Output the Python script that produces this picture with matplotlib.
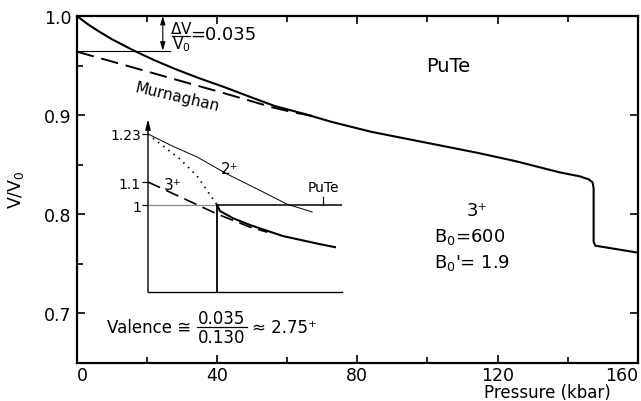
import matplotlib
matplotlib.use('Agg')

import matplotlib.pyplot as plt
from matplotlib.ticker import MultipleLocator, FormatStrFormatter

plt.rcParams['font.family'] = 'DejaVu Sans'
plt.rcParams['mathtext.default'] = 'regular'

# PuTe: V/V0 medida contra presion (kbar)
p_exp = [0, 3, 6, 10, 16.5, 22, 28, 35, 42.2, 50, 56.5, 65, 72.7, 84, 100, 114, 125,
         137.8, 143.5, 146, 147.1, 147.4, 147.4, 147.9, 160]
v_exp = [1.0, 0.992, 0.985, 0.9765, 0.9646, 0.9555, 0.9465, 0.937, 0.928, 0.9175,
         0.909, 0.901, 0.893, 0.883, 0.8718, 0.862, 0.8535, 0.842, 0.838, 0.835,
         0.832, 0.826, 0.772, 0.768, 0.761]

# Ajuste de Murnaghan (linea discontinua)
p_murn = [0, 20, 28, 42, 56, 62, 67]
v_murn = [0.964, 0.944, 0.936, 0.922, 0.9075, 0.9025, 0.8992]

# Salto de volumen extrapolado
dv = 0.035
p_dv_line = [0, 26.5]
p_dv_arrow = 24.5

# Ejes
xticks = [0, 40, 80, 120, 160]
yticks = [0.7, 0.8, 0.9, 1.0]

# Recuadro esquematico (unidades propias del recuadro)
x_2p = [0, 7, 14.0, 22.5, 31.1, 39.6, 46.8]
y_2p = [1.309, 1.256, 1.209, 1.135, 1.070, 1.004, 0.970]
x_dot = [0, 0.6, 9.1, 14.0, 19.7]
y_dot = [1.309, 1.30, 1.20, 1.126, 1.0]
x_3p = [0, 19.7, 29.1, 34]
y_3p = [1.1, 0.961, 0.904, 0.882]
x_sol = [19.7, 20.5, 24.2, 29.1, 38.5, 49.0, 53.3]
y_sol = [1.0, 0.974, 0.943, 0.913, 0.865, 0.830, 0.817]
x_salto = 19.7
x_pute = 49.9
ytick_in = [1.0, 1.1, 1.309]
ytick_in_lab = ['1', '1.1', '1.23']

fig = plt.figure(figsize=(6.41, 4.02), dpi=100)
ax = fig.add_axes([0.120, 0.0945, 0.875, 0.8632])

ax.plot(p_exp, v_exp, color='k', lw=1.5)
ax.plot(p_murn, v_murn, color='k', lw=1.4, dashes=(9, 4))
ax.plot(p_dv_line, [1.0 - dv, 1.0 - dv], color='k', lw=0.8)
ax.annotate('', xy=(p_dv_arrow, 1.0), xytext=(p_dv_arrow, 1.0 - dv),
            arrowprops=dict(arrowstyle='<|-|>,head_length=0.5,head_width=0.15',
                            color='k', lw=0.8, shrinkA=0, shrinkB=0))

ax.set_xlim(0, 160)
ax.set_ylim(0.6495, 1.0)
ax.set_xticks(xticks)
ax.set_xticklabels([str(t) for t in xticks])
ax.xaxis.set_minor_locator(MultipleLocator(20))
ax.set_yticks(yticks)
ax.set_yticklabels(['%.1f' % t for t in yticks])
ax.yaxis.set_minor_locator(MultipleLocator(0.05))
ax.tick_params(which='both', direction='in', top=True, right=True, width=1.2,
               labelsize=12.5)
ax.tick_params(axis='x', pad=2)
ax.tick_params(axis='y', pad=4)
ax.tick_params(which='major', length=6)
ax.tick_params(which='minor', length=4, right=False)
for s in ax.spines.values():
    s.set_linewidth(1.6)
xlabs = ax.get_xticklabels()
xlabs[-1].set_horizontalalignment('right')
xlabs[0].set_horizontalalignment('left')

# textos
fig.text(181 / 641, 1 - 29 / 402, r'$\Delta$V', fontsize=11, ha='center', va='center')
fig.text(181 / 641, 1 - 45 / 402, 'V$_0$', fontsize=11, ha='center', va='center')
fig.add_artist(plt.Line2D([172 / 641, 190 / 641], [1 - 37 / 402, 1 - 37 / 402],
                          color='k', lw=0.9))
fig.text(190 / 641, 1 - 35 / 402, '=0.035', fontsize=13, ha='left', va='center')
fig.text(177 / 641, 1 - 97 / 402, 'Murnaghan', fontsize=11, rotation=-13,
         ha='center', va='center')
fig.text(448 / 641, 1 - 67 / 402, 'PuTe', fontsize=14, ha='center', va='center')
fig.text(477 / 641, 1 - 211 / 402, '3⁺', fontsize=13, ha='center', va='center')
fig.text(434 / 641, 1 - 237 / 402, 'B$_0$=600', fontsize=13, ha='left', va='center')
fig.text(434 / 641, 1 - 263 / 402, "B$_0$'= 1.9", fontsize=13, ha='left', va='center')

fig.text(191 / 641, 1 - 328 / 402, 'Valence ≅', fontsize=12, ha='right', va='center')
fig.text(222 / 641, 1 - 319 / 402, '0.035', fontsize=12, ha='center', va='center')
fig.text(222 / 641, 1 - 338 / 402, '0.130', fontsize=12, ha='center', va='center')
fig.add_artist(plt.Line2D([197 / 641, 247 / 641], [1 - 328 / 402, 1 - 328 / 402],
                          color='k', lw=0.9))
fig.text(252 / 641, 1 - 328 / 402, '≈ 2.75⁺', fontsize=12, ha='left', va='center')

fig.text(547 / 641, 1 - 393 / 402, 'Pressure (kbar)', fontsize=12, ha='center', va='center')
fig.text(16 / 641, 1 - 190 / 402, 'V/V$_0$', fontsize=12.5, rotation=90,
         ha='center', va='center')

# recuadro
ax_in = fig.add_axes([148 / 641, 1 - 293 / 402, 194 / 641, 173 / 402])
ax_in.patch.set_alpha(0)
ax_in.set_xlim(0, 55.3)
ax_in.set_ylim(0.622, 1.374)
for k in ['top', 'right', 'left']:
    ax_in.spines[k].set_visible(False)
ax_in.spines['bottom'].set_linewidth(1.0)
ax_in.annotate('', xy=(0, 1), xycoords='axes fraction', xytext=(0, 0),
               arrowprops=dict(arrowstyle='-|>,head_length=0.6,head_width=0.15',
                               color='k', lw=1.0, shrinkA=0, shrinkB=0))
ax_in.set_xticks([])
ax_in.set_yticks(ytick_in)
ax_in.set_yticklabels(ytick_in_lab)
ax_in.tick_params(axis='y', direction='out', length=4, width=0.9, labelsize=10, pad=1)

ax_in.plot([0, x_salto], [1, 1], color='0.55', lw=0.9)
ax_in.plot([x_salto, 55.3], [1, 1], color='k', lw=1.1)
ax_in.plot([x_salto, x_salto], [0.622, 1.0], color='k', lw=1.3)
ax_in.plot(x_2p, y_2p, color='k', lw=0.7)
ax_in.plot(x_dot, y_dot, color='k', lw=1.3, dashes=(0.8, 2.8))
ax_in.plot(x_3p, y_3p, color='k', lw=1.2, dashes=(8, 4))
ax_in.plot(x_sol, y_sol, color='k', lw=1.5)
ax_in.plot([x_pute, x_pute], [1.0, 1.035], color='k', lw=0.9)
ax_in.text(x_pute, 1.078, 'PuTe', fontsize=10, ha='center', va='center')
ax_in.text(23.4, 1.157, '2⁺', fontsize=11, ha='center', va='center')
ax_in.text(7.1, 1.09, '3⁺', fontsize=11, ha='center', va='center')

fig.savefig('out.png', dpi=100)
